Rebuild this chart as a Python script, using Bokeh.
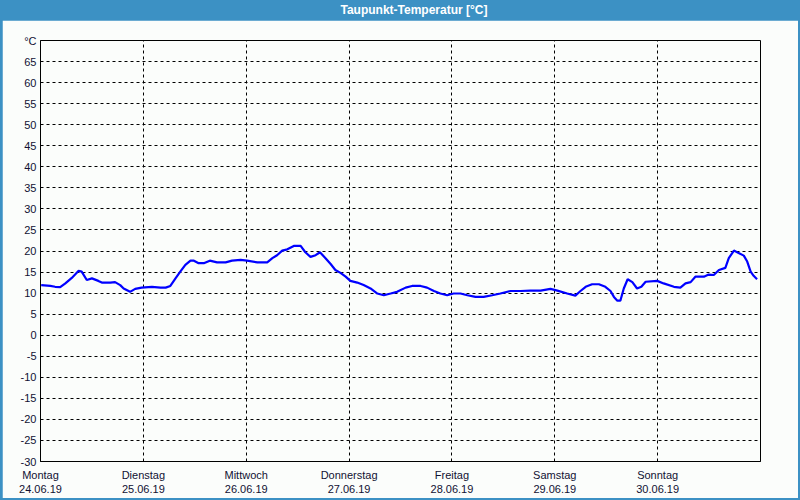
from bokeh.plotting import figure
from bokeh.models import Range1d, FixedTicker, Div
from bokeh.layouts import column
from bokeh.embed import file_html
from bokeh.resources import INLINE

# time in hours from Monday 24.06.19 00:00
hours = [0.16, 2.3, 3.4, 4.6, 5.8, 7.3, 8.9, 9.6, 10.8, 12.0, 13.5, 14.3, 16.3, 17.4, 18.6,
         19.4, 20.9, 22.1, 23.6, 26.0, 28.0, 29.2, 30.3, 31.5, 32.7, 33.8, 35.0, 35.8, 36.9,
         38.1, 39.5, 41.2, 43.2, 44.7, 46.7, 48.2, 50.6, 52.9, 54.1, 55.2, 56.4, 57.6, 59.1,
         60.7, 61.8, 63.0, 64.2, 65.2, 66.5, 67.7, 68.8, 70.0, 71.2, 72.3, 73.9, 75.4, 77.0,
         78.6, 80.1, 81.7, 83.2, 85.2, 86.7, 88.7, 90.2, 91.8, 93.3, 94.9, 96.4, 98.0, 99.6,
         101.5, 103.4, 105.4, 107.3, 109.7, 112.0, 114.3, 116.7, 119.0, 120.6, 122.9, 124.8,
         126.0, 127.2, 128.7, 130.3, 131.8, 133.0, 133.8, 134.6, 135.3, 136.1, 137.0, 138.1,
         139.2, 140.2, 141.2, 143.9, 145.4, 147.8, 149.3, 150.5, 151.7, 152.8, 154.8, 155.9,
         157.1, 158.3, 159.8, 160.6, 161.8, 162.9, 164.1, 164.9, 165.7, 166.4, 167.2]
taupunkt = [11.9, 11.7, 11.5, 11.4, 12.3, 13.6, 15.3, 15.1, 13.1, 13.5, 12.9, 12.5, 12.5, 12.6, 11.9,
            11.1, 10.3, 11.0, 11.3, 11.5, 11.3, 11.3, 11.7, 13.5, 15.2, 16.7, 17.7, 17.7, 17.1,
            17.1, 17.7, 17.3, 17.3, 17.7, 17.9, 17.7, 17.3, 17.3, 18.3, 19.0, 20.1, 20.4, 21.2,
            21.2, 19.7, 18.6, 19.0, 19.7, 18.3, 16.9, 15.5, 14.8, 13.9, 12.9, 12.5, 11.9, 11.1,
            9.9, 9.5, 9.9, 10.3, 11.3, 11.7, 11.7, 11.3, 10.5, 9.9, 9.5, 9.9, 9.9, 9.5,
            9.1, 9.1, 9.5, 9.9, 10.5, 10.5, 10.6, 10.6, 11.0, 10.6, 9.9, 9.4,
            10.5, 11.5, 12.1, 12.1, 11.5, 10.5, 9.1, 8.2, 8.2, 11.1, 13.3, 12.6,
            11.1, 11.5, 12.7, 12.9, 12.3, 11.5, 11.3, 12.3, 12.6, 13.9, 13.9, 14.4,
            14.3, 15.5, 16.0, 18.3, 20.1, 19.5, 18.9, 17.5, 15.1, 14.1, 13.3]

day_ticks = [0, 24, 48, 72, 96, 120, 144, 168]
day_labels = ["Montag\n24.06.19", "Dienstag\n25.06.19", "Mittwoch\n26.06.19",
              "Donnerstag\n27.06.19", "Freitag\n28.06.19", "Samstag\n29.06.19",
              "Sonntag\n30.06.19", ""]
y_ticks = list(range(-30, 75, 5))
y_labels = {v: str(v) for v in y_ticks}
y_labels[70] = "°C"

title_text = "Taupunkt-Temperatur [°C]"
BG = "#fbfdfb"
BLUE = "#3c91c4"
FONT = "Liberation Sans"

title = Div(text=title_text, width=800, height=20, margin=(0, 0, 0, 0),
            styles={"background-color": BLUE, "color": "white", "text-align": "center",
                    "font-family": FONT, "font-weight": "bold", "font-size": "12px",
                    "line-height": "20px", "text-indent": "28px"})

p = figure(width=796, height=478, output_backend="svg", toolbar_location=None,
           x_range=Range1d(0, 168), y_range=Range1d(-30, 70),
           min_border_left=38, min_border_right=38, min_border_top=20, min_border_bottom=37,
           margin=(0, 2, 2, 2), background_fill_color=BG, border_fill_color=BG)

p.outline_line_color = "black"
p.outline_line_width = 1

p.line(hours, taupunkt, line_color="#0000ff", line_width=2.2)

p.xaxis.ticker = FixedTicker(ticks=day_ticks)
p.xaxis.major_label_overrides = {t: l for t, l in zip(day_ticks, day_labels)}
p.yaxis.ticker = FixedTicker(ticks=y_ticks)
p.yaxis.major_label_overrides = y_labels

for ax in (p.xaxis[0], p.yaxis[0]):
    ax.axis_line_color = "black"
    ax.axis_line_width = 1
    ax.major_tick_line_color = None
    ax.minor_tick_line_color = None
    ax.major_tick_out = 0
    ax.major_tick_in = 0
    ax.minor_tick_out = 0
    ax.minor_tick_in = 0
    ax.major_label_text_font = FONT
    ax.major_label_text_font_size = "11px"
    ax.major_label_text_color = "#111133"
p.xaxis.major_label_standoff = 7
p.yaxis.major_label_standoff = 4

p.xgrid.ticker = FixedTicker(ticks=day_ticks[1:-1])
p.ygrid.ticker = FixedTicker(ticks=y_ticks[1:-1])
for g in (p.xgrid[0], p.ygrid[0]):
    g.grid_line_color = "black"
    g.grid_line_dash = "3 3"
    g.grid_line_width = 1

layout = column(title, p, styles={"background-color": BLUE}, spacing=0)

open("out.html", "w").write(file_html(layout, INLINE))
